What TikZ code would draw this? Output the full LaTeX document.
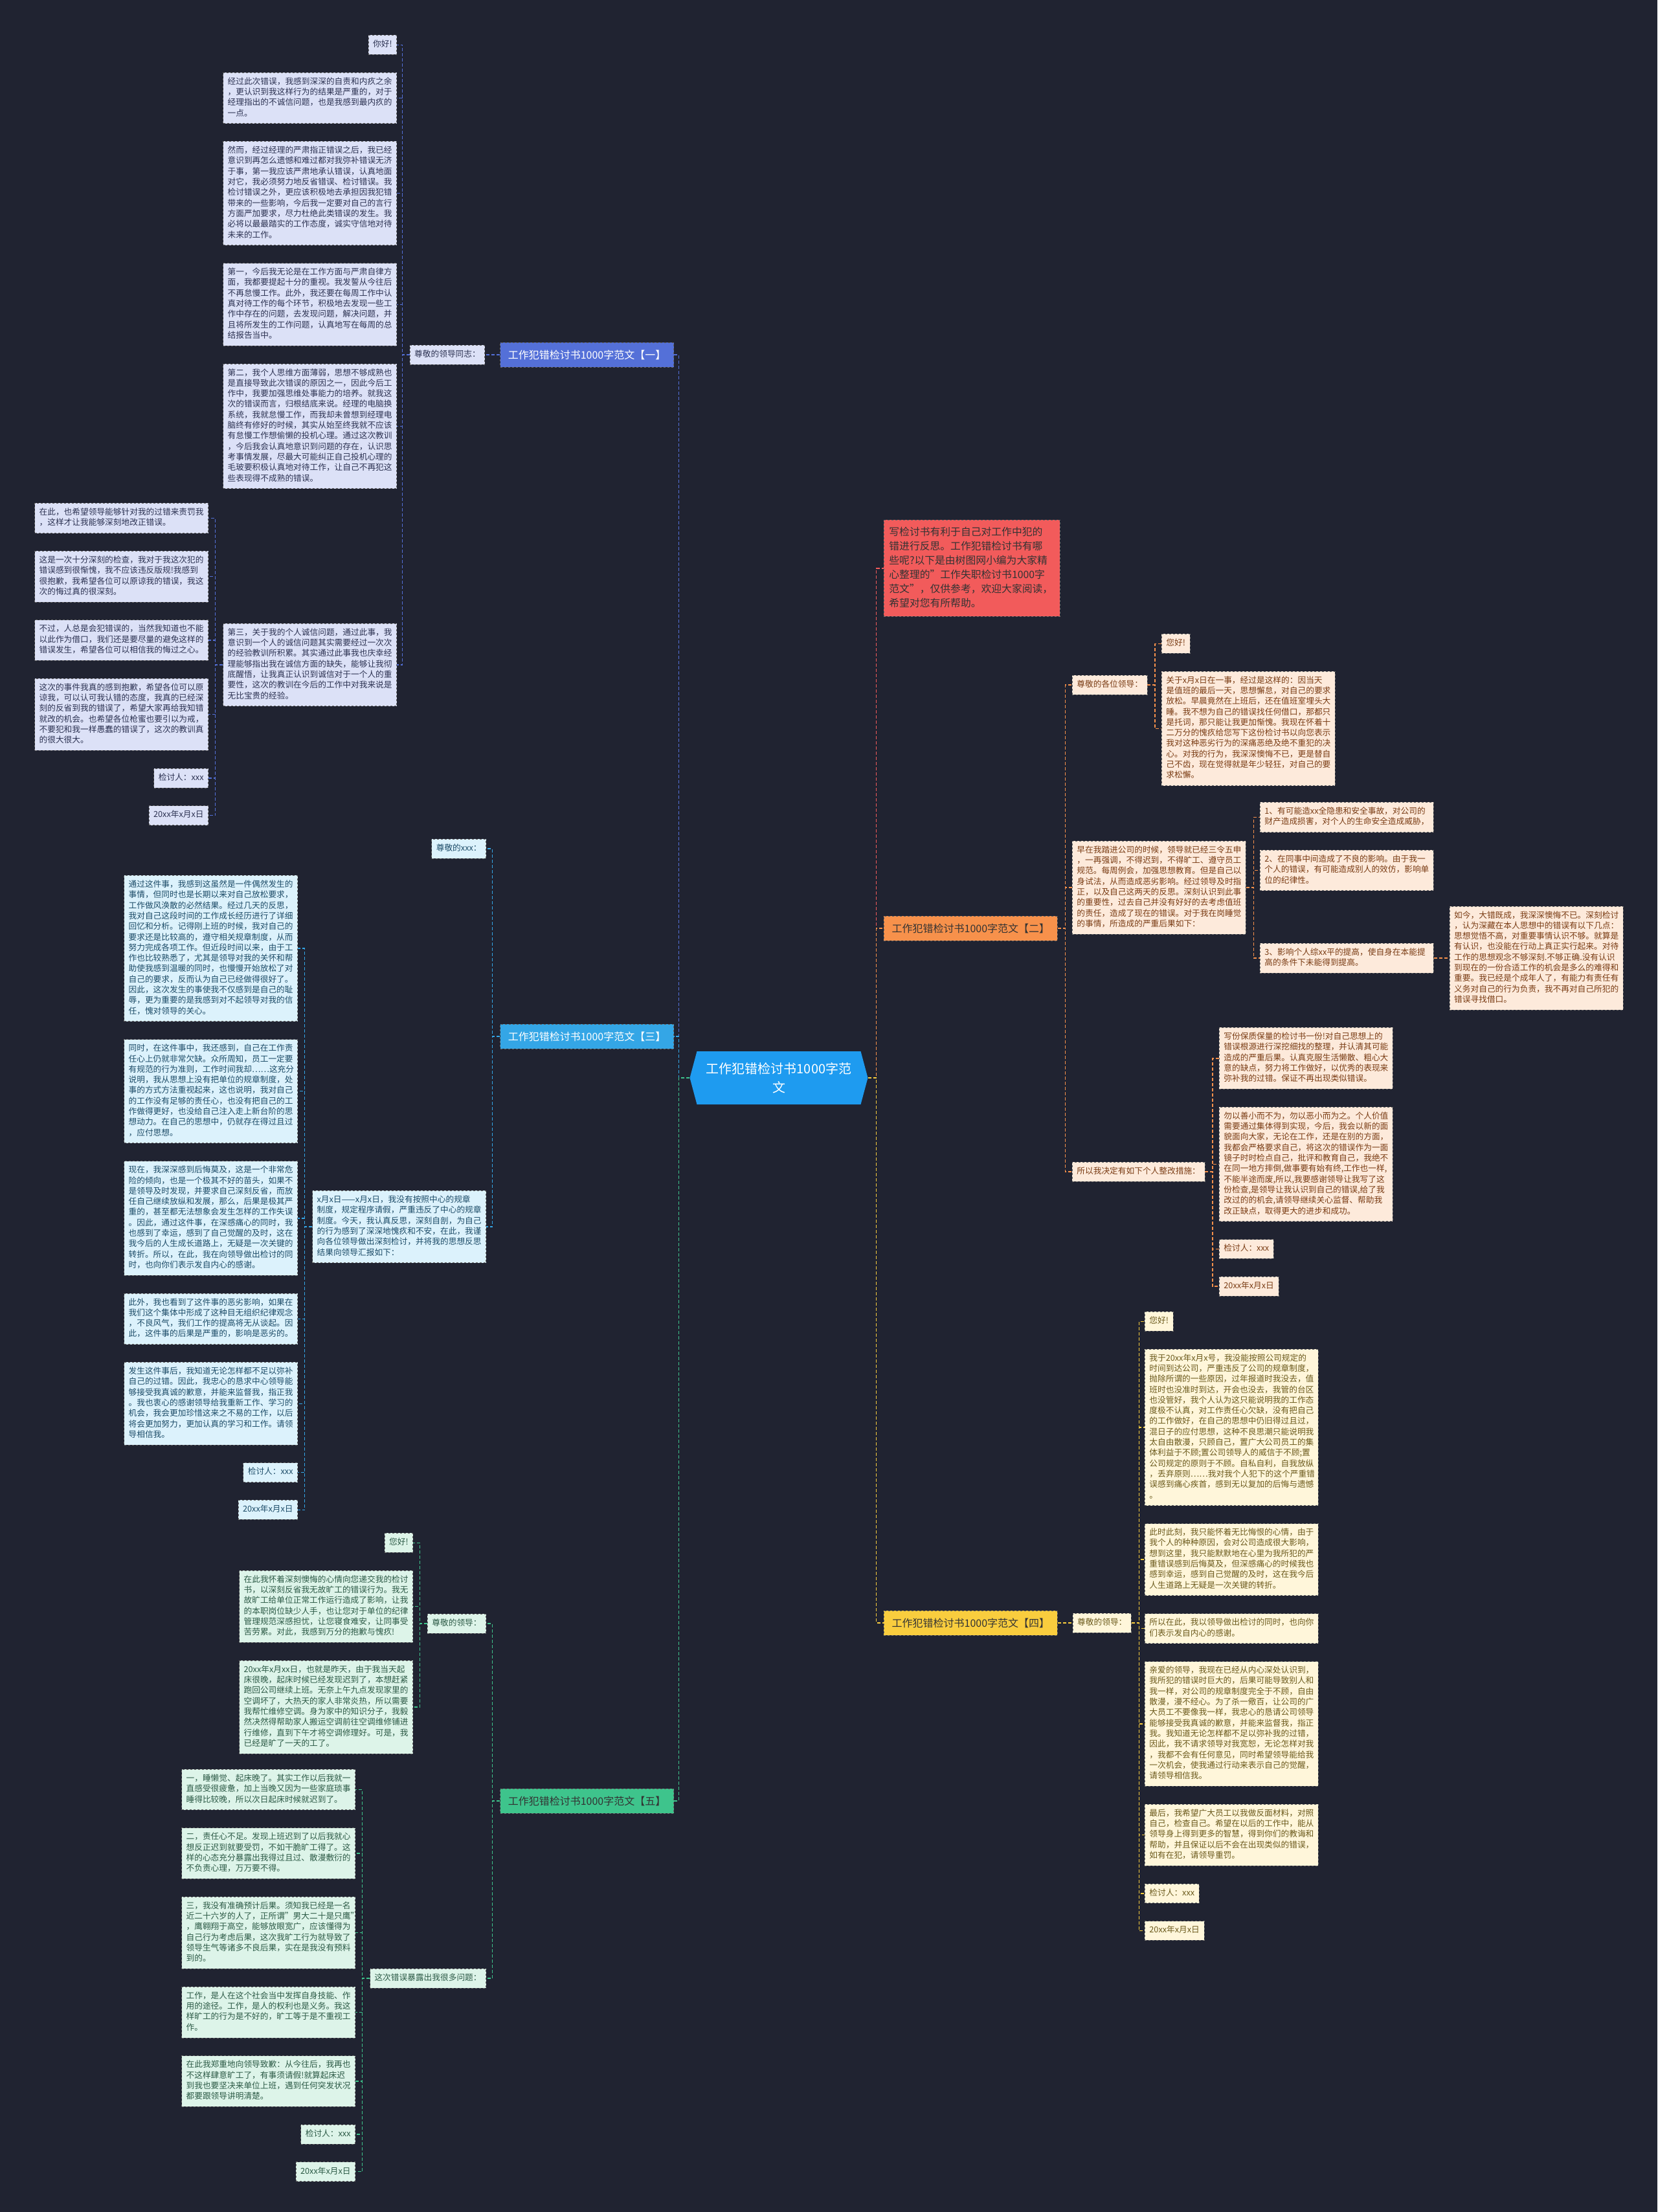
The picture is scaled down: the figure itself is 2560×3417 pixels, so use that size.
\documentclass[tikz,border=0pt]{standalone}
\usepackage{fontspec}
\setmainfont{Noto Sans CJK SC}
\usetikzlibrary{positioning,calc,shapes.symbols}
\definecolor{bgnavy}{HTML}{202331}
\definecolor{rootblue}{HTML}{1E9BF0}
\definecolor{introred}{HTML}{F25B5B}
\definecolor{yicolor}{HTML}{5470D8}
\definecolor{yifill}{HTML}{DCE1F7}
\definecolor{yitext}{HTML}{2C3252}
\definecolor{ercolor}{HTML}{F7914B}
\definecolor{erfill}{HTML}{FDEADB}
\definecolor{ertext}{HTML}{7A3C14}
\definecolor{sancolor}{HTML}{34A6E6}
\definecolor{sanfill}{HTML}{DCF2FC}
\definecolor{santext}{HTML}{1D4C68}
\definecolor{sicolor}{HTML}{F9CD3E}
\definecolor{sifill}{HTML}{FFF6DA}
\definecolor{sitext}{HTML}{6B5A1C}
\definecolor{wucolor}{HTML}{3EC48C}
\definecolor{wufill}{HTML}{DDF4E9}
\definecolor{wutext}{HTML}{2C5A46}
\newcommand{\leaffont}{\fontsize{12.7}{16.3}\selectfont}
\newcommand{\branchfont}{\fontsize{16}{20}\selectfont}
\newcommand{\rootfont}{\fontsize{20}{29}\selectfont}
\newcommand{\introfont}{\fontsize{15.8}{22}\selectfont}

\begin{document}
\begin{tikzpicture}[
    x=1pt, y=-1pt,
    leaf/.style={
      rectangle, draw=black!60, dashed, line width=0.8pt,
      font=\leaffont, align=left,
      inner xsep=7pt, inner ysep=6.75pt,
      execute at begin node=\strut, execute at end node=\strut
    },
    para/.style={leaf, text width=254pt},
    branch/.style={
      rectangle, draw=black!60, dashed, line width=0.8pt,
      font=\branchfont, minimum width=268pt, minimum height=38pt,
      inner xsep=10pt
    },
    rootbox/.style={
      signal, signal to=east and west, signal pointer angle=150,
      fill=rootblue, text=white, font=\rootfont, align=center,
      minimum width=275pt, minimum height=82pt, inner xsep=4pt
    },
    yi/.style={fill=yifill, text=yitext},
    er/.style={fill=erfill, text=ertext},
    san/.style={fill=sanfill, text=santext},
    si/.style={fill=sifill, text=sitext},
    wu/.style={fill=wufill, text=wutext},
    link/.style={draw=#1, dash pattern=on 5pt off 3pt, line width=1.4pt},
  ]

  % --- Canvas ---
  \fill[bgnavy] (0,0) rectangle (2560,3417);
  \useasboundingbox (0,0) rectangle (2560,3417);

  % --- Root ---
  \node[rootbox] (root) at (1203,1665) {工作犯错检讨书1000字范\\文};
  \coordinate (trunkL) at ($(root.west)+(-17,0)$);
  \coordinate (trunkR) at ($(root.east)+(13,0)$);

  % --- Branches ---
  \node[branch, anchor=east, fill=yicolor, text=white] (b1) at (1041,548)
    {工作犯错检讨书1000字范文【一】};
  \node[branch, anchor=east, fill=sancolor, text=white] (b3) at (1041,1601)
    {工作犯错检讨书1000字范文【三】};
  \node[branch, anchor=east, fill=wucolor, text=black!80] (b5) at (1041,2782)
    {工作犯错检讨书1000字范文【五】};

  \node[para, anchor=north west, fill=introred, text=black!80, font=\introfont,
    text width=256pt, inner xsep=8pt, inner ysep=8.5pt] (intro) at (1365,803)
    {写检讨书有利于自己对工作中犯的\\错进行反思。工作犯错检讨书有哪\\些呢?以下是由树图网小编为大家精\\心整理的"工作失职检讨书1000字\\范文"，仅供参考，欢迎大家阅读，\\希望对您有所帮助。};
  \node[branch, anchor=west, fill=ercolor, text=black!80] (b2) at (1365,1434)
    {工作犯错检讨书1000字范文【二】};
  \node[branch, anchor=west, fill=sicolor, text=black!80] (b4) at (1365,2507)
    {工作犯错检讨书1000字范文【四】};

  % --- Branch one ---
  \node[leaf, yi, left=23pt of b1] (a0) {尊敬的领导同志：};
  \node[leaf, yi, anchor=north east] (a1) at (613,54) {你好!};
  \node[para, yi, below left=27pt and 0pt of a1.south east] (a2)
    {经过此次错误，我感到深深的自责和内疚之余\\，更认识到我这样行为的结果是严重的，对于\\经理指出的不诚信问题，也是我感到最内疚的\\一点。};
  \node[para, yi, below left=27pt and 0pt of a2.south east] (a3)
    {然而，经过经理的严肃指正错误之后，我已经\\意识到再怎么遗憾和难过都对我弥补错误无济\\于事，第一我应该严肃地承认错误，认真地面\\对它，我必须努力地反省错误、检讨错误。我\\检讨错误之外，更应该积极地去承担因我犯错\\带来的一些影响，今后我一定要对自己的言行\\方面严加要求，尽力杜绝此类错误的发生。我\\必将以最最踏实的工作态度，诚实守信地对待\\未来的工作。};
  \node[para, yi, below left=27pt and 0pt of a3.south east] (a4)
    {第一，今后我无论是在工作方面与严肃自律方\\面，我都要提起十分的重视。我发誓从今往后\\不再怠慢工作。此外，我还要在每周工作中认\\真对待工作的每个环节，积极地去发现一些工\\作中存在的问题，去发现问题，解决问题，并\\且将所发生的工作问题，认真地写在每周的总\\结报告当中。};
  \node[para, yi, below left=27pt and 0pt of a4.south east] (a5)
    {第二，我个人思维方面薄弱，思想不够成熟也\\是直接导致此次错误的原因之一，因此今后工\\作中，我要加强思维处事能力的培养。就我这\\次的错误而言，归根结底来说。经理的电脑换\\系统，我就怠慢工作，而我却未曾想到经理电\\脑终有修好的时候，其实从始至终我就不应该\\有怠慢工作想偷懒的投机心理。通过这次教训\\，今后我会认真地意识到问题的存在，认识思\\考事情发展，尽最大可能纠正自己投机心理的\\毛玻要积极认真地对待工作，让自己不再犯这\\些表现得不成熟的错误。};
  \node[para, yi, anchor=east] (a6) at (613,1027)
    {第三，关于我的个人诚信问题，通过此事，我\\意识到一个人的诚信问题其实需要经过一次次\\的经验教训所积累。其实通过此事我也庆幸经\\理能够指出我在诚信方面的缺失，能够让我彻\\底醒悟，让我真正认识到诚信对于一个人的重\\要性，这次的教训在今后的工作中对我来说是\\无比宝贵的经验。};

  \node[para, yi, anchor=north east] (c1) at (322,777)
    {在此，也希望领导能够针对我的过错来责罚我\\，这样才让我能够深刻地改正错误。};
  \node[para, yi, below left=27pt and 0pt of c1.south east] (c2)
    {这是一次十分深刻的检查，我对于我这次犯的\\错误感到很惭愧，我不应该违反版规!我感到\\很抱歉，我希望各位可以原谅我的错误，我这\\次的悔过真的很深刻。};
  \node[para, yi, below left=27pt and 0pt of c2.south east] (c3)
    {不过，人总是会犯错误的，当然我知道也不能\\以此作为借口，我们还是要尽量的避免这样的\\错误发生，希望各位可以相信我的悔过之心。};
  \node[para, yi, below left=27pt and 0pt of c3.south east] (c4)
    {这次的事件我真的感到抱歉，希望各位可以原\\谅我，可以认可我认错的态度，我真的已经深\\刻的反省到我的错误了，希望大家再给我知错\\就改的机会。也希望各位枪蜜也要引以为戒，\\不要犯和我一样愚蠢的错误了，这次的教训真\\的很大很大。};
  \node[leaf, yi, below left=27pt and 0pt of c4.south east] (c5) {检讨人：xxx};
  \node[leaf, yi, below left=27pt and 0pt of c5.south east] (c6) {20xx年x月x日};

  % --- Branch three ---
  \node[leaf, san, anchor=east] (d0) at (751,1311) {尊敬的xxx：};
  \node[para, san, anchor=east] (d1) at (751,1895)
    {x月x日——x月x日，我没有按照中心的规章\\制度，规定程序请假，严重违反了中心的规章\\制度。今天，我认真反思，深刻自剖，为自己\\的行为感到了深深地愧疚和不安，在此，我谨\\向各位领导做出深刻检讨，并将我的思想反思\\结果向领导汇报如下：};
  \node[para, san, anchor=north east] (e1) at (460,1352)
    {通过这件事，我感到这虽然是一件偶然发生的\\事情，但同时也是长期以来对自己放松要求，\\工作做风涣散的必然结果。经过几天的反思，\\我对自己这段时间的工作成长经历进行了详细\\回忆和分析。记得刚上班的时候，我对自己的\\要求还是比较高的，遵守相关规章制度，从而\\努力完成各项工作。但近段时间以来，由于工\\作也比较熟悉了，尤其是领导对我的关怀和帮\\助使我感到温暖的同时，也慢慢开始放松了对\\自己的要求，反而认为自己已经做得很好了。\\因此，这次发生的事使我不仅感到是自己的耻\\辱，更为重要的是我感到对不起领导对我的信\\任，愧对领导的关心。};
  \node[para, san, below left=27pt and 0pt of e1.south east] (e2)
    {同时，在这件事中，我还感到，自己在工作责\\任心上仍就非常欠缺。众所周知，员工一定要\\有规范的行为准则，工作时间我却……这充分\\说明，我从思想上没有把单位的规章制度，处\\事的方式方法重视起来，这也说明，我对自己\\的工作没有足够的责任心，也没有把自己的工\\作做得更好，也没给自己注入走上新台阶的思\\想动力。在自己的思想中，仍就存在得过且过\\，应付思想。};
  \node[para, san, below left=27pt and 0pt of e2.south east] (e3)
    {现在，我深深感到后悔莫及，这是一个非常危\\险的倾向，也是一个极其不好的苗头，如果不\\是领导及时发现，并要求自己深刻反省，而放\\任自己继续放纵和发展，那么，后果是极其严\\重的，甚至都无法想象会发生怎样的工作失误\\。因此，通过这件事，在深感痛心的同时，我\\也感到了幸运，感到了自己觉醒的及时，这在\\我今后的人生成长道路上，无疑是一次关键的\\转折。所以，在此，我在向领导做出检讨的同\\时，也向你们表示发自内心的感谢。};
  \node[para, san, below left=27pt and 0pt of e3.south east] (e4)
    {此外，我也看到了这件事的恶劣影响，如果在\\我们这个集体中形成了这种目无组织纪律观念\\，不良风气，我们工作的提高将无从谈起。因\\此，这件事的后果是严重的，影响是恶劣的。};
  \node[para, san, below left=27pt and 0pt of e4.south east] (e5)
    {发生这件事后，我知道无论怎样都不足以弥补\\自己的过错。因此，我忠心的恳求中心领导能\\够接受我真诚的歉意，并能来监督我，指正我\\。我也衷心的感谢领导给我重新工作、学习的\\机会，我会更加珍惜这来之不易的工作，以后\\将会更加努力，更加认真的学习和工作。请领\\导相信我。};
  \node[leaf, san, below left=27pt and 0pt of e5.south east] (e6) {检讨人：xxx};
  \node[leaf, san, below left=27pt and 0pt of e6.south east] (e7) {20xx年x月x日};

  % --- Branch five ---
  \node[leaf, wu, anchor=east] (f0) at (751,2508) {尊敬的领导：};
  \node[leaf, wu, anchor=east] (f1) at (751,3056) {这次错误暴露出我很多问题：};
  \node[leaf, wu, anchor=north east] (g1) at (638,2368) {您好!};
  \node[para, wu, below left=27pt and 0pt of g1.south east] (g2)
    {在此我怀着深刻懊悔的心情向您递交我的检讨\\书，以深刻反省我无故旷工的错误行为。我无\\故旷工给单位正常工作运行造成了影响，让我\\的本职岗位缺少人手，也让您对于单位的纪律\\管理规范深感担忧，让您寝食难安，让同事受\\苦劳累。对此，我感到万分的抱歉与愧疚!};
  \node[para, wu, below left=27pt and 0pt of g2.south east] (g3)
    {20xx年x月xx日，也就是昨天，由于我当天起\\床很晚，起床时候已经发现迟到了，本想赶紧\\跑回公司继续上班。无奈上午九点发现家里的\\空调坏了，大热天的家人非常炎热，所以需要\\我帮忙维修空调。身为家中的知识分子，我毅\\然决然得帮助家人搬运空调前往空调维修铺进\\行维修，直到下午才将空调修理好。可是，我\\已经是旷了一天的工了。};
  \node[para, wu, anchor=north east] (h1) at (549,2733)
    {一，睡懒觉、起床晚了。其实工作以后我就一\\直感受很疲惫，加上当晚又因为一些家庭琐事\\睡得比较晚，所以次日起床时候就迟到了。};
  \node[para, wu, below left=27pt and 0pt of h1.south east] (h2)
    {二，责任心不足。发现上班迟到了以后我就心\\想反正迟到就要受罚，不如干脆旷工得了。这\\样的心态充分暴露出我得过且过、散漫敷衍的\\不负责心理，万万要不得。};
  \node[para, wu, below left=27pt and 0pt of h2.south east] (h3)
    {三，我没有准确预计后果。须知我已经是一名\\近二十六岁的人了，正所谓"男大二十是只鹰"\\，鹰翱翔于高空，能够放眼宽广，应该懂得为\\自己行为考虑后果，这次我旷工行为就导致了\\领导生气等诸多不良后果，实在是我没有预料\\到的。};
  \node[para, wu, below left=27pt and 0pt of h3.south east] (h4)
    {工作，是人在这个社会当中发挥自身技能、作\\用的途径。工作，是人的权利也是义务。我这\\样旷工的行为是不好的，旷工等于是不重视工\\作。};
  \node[para, wu, below left=27pt and 0pt of h4.south east] (h5)
    {在此我郑重地向领导致歉：从今往后，我再也\\不这样肆意旷工了，有事须请假!就算起床迟\\到我也要坚决来单位上班，遇到任何突发状况\\都要跟领导讲明清楚。};
  \node[leaf, wu, below left=27pt and 0pt of h5.south east] (h6) {检讨人：xxx};
  \node[leaf, wu, below left=27pt and 0pt of h6.south east] (h7) {20xx年x月x日};

  % --- Branch two ---
  \node[leaf, er, anchor=west] (k1) at (1656,1058) {尊敬的各位领导：};
  \node[para, er, anchor=west] (k2) at (1656,1371)
    {早在我踏进公司的时候，领导就已经三令五申\\，一再强调，不得迟到，不得旷工、遵守员工\\规范。每周例会，加强思想教育。但是自己以\\身试法，从而造成恶劣影响。经过领导及时指\\正，以及自己这两天的反思。深刻认识到此事\\的重要性，过去自己并没有好好的去考虑值班\\的责任，造成了现在的错误。对于我在岗睡觉\\的事情，所造成的严重后果如下：};
  \node[leaf, er, anchor=west] (k3) at (1656,1810) {所以我决定有如下个人整改措施：};
  \node[leaf, er, anchor=north west] (l1) at (1794,979) {您好!};
  \node[para, er, below right=27pt and 0pt of l1.south west] (l2)
    {关于x月x日在一事，经过是这样的：因当天\\是值班的最后一天，思想懈怠，对自己的要求\\放松。早晨竟然在上班后，还在值班室埋头大\\睡。我不想为自己的错误找任何借口，那都只\\是托词，那只能让我更加惭愧。我现在怀着十\\二万分的愧疚给您写下这份检讨书以向您表示\\我对这种恶劣行为的深痛恶绝及绝不重犯的决\\心。对我的行为，我深深懊悔不已，更是替自\\己不齿，现在觉得就是年少轻狂，对自己的要\\求松懈。};
  \node[para, er, anchor=north west] (m1) at (1946,1239)
    {1、有可能造xx全隐患和安全事故，对公司的\\财产造成损害，对个人的生命安全造成威胁，};
  \node[para, er, below right=27pt and 0pt of m1.south west] (m2)
    {2、在同事中间造成了不良的影响。由于我一\\个人的错误，有可能造成别人的效仿，影响单\\位的纪律性。};
  \node[para, er, anchor=west] (m3) at (1946,1480)
    {3、影响个人综xx平的提高，使自身在本能提\\高的条件下未能得到提高。};
  \node[para, er, right=24pt of m3] (n1)
    {如今，大错既成，我深深懊悔不已。深刻检讨\\，认为深藏在本人思想中的错误有以下几点：\\思想觉悟不高，对重要事情认识不够。就算是\\有认识，也没能在行动上真正实行起来。对待\\工作的思想观念不够深刻.不够正确.没有认识\\到现在的一份合适工作的机会是多么的难得和\\重要。我已经是个成年人了，有能力有责任有\\义务对自己的行为负责，我不再对自己所犯的\\错误寻找借口。};
  \node[para, er, anchor=north west] (o1) at (1883,1587)
    {写份保质保量的检讨书一份!对自己思想上的\\错误根源进行深挖细找的整理，并认清其可能\\造成的严重后果。认真克服生活懒散、粗心大\\意的缺点，努力将工作做好，以优秀的表现来\\弥补我的过错。保证不再出现类似错误。};
  \node[para, er, below right=27pt and 0pt of o1.south west] (o2)
    {勿以善小而不为，勿以恶小而为之。个人价值\\需要通过集体得到实现，今后，我会以新的面\\貌面向大家，无论在工作，还是在别的方面，\\我都会严格要求自己，将这次的错误作为一面\\镜子时时检点自己，批评和教育自己，我绝不\\在同一地方摔倒,做事要有始有终,工作也一样,\\不能半途而废,所以,我要感谢领导让我写了这\\份检查,是领导让我认识到自己的错误,给了我\\改过的的机会,请领导继续关心监督、帮助我\\改正缺点，取得更大的进步和成功。};
  \node[leaf, er, below right=27pt and 0pt of o2.south west] (o3) {检讨人：xxx};
  \node[leaf, er, below right=27pt and 0pt of o3.south west] (o4) {20xx年x月x日};

  % --- Branch four ---
  \node[leaf, si, right=23pt of b4] (p0) {尊敬的领导：};
  \node[leaf, si, anchor=north west] (q1) at (1768,2026) {您好!};
  \node[para, si, below right=27pt and 0pt of q1.south west] (q2)
    {我于20xx年x月x号，我没能按照公司规定的\\时间到达公司，严重违反了公司的规章制度，\\抛除所谓的一些原因，过年报道时我没去，值\\班时也没准时到达，开会也没去，我管的台区\\也没管好，我个人认为这只能说明我的工作态\\度极不认真，对工作责任心欠缺，没有把自己\\的工作做好，在自己的思想中仍旧得过且过，\\混日子的应付思想，这种不良思潮只能说明我\\太自由散漫，只顾自己，置广大公司员工的集\\体利益于不顾;置公司领导人的威信于不顾;置\\公司规定的原则于不顾。自私自利，自我放纵\\，丢弃原则……我对我个人犯下的这个严重错\\误感到痛心疾首，感到无以复加的后悔与遗憾\\。};
  \node[para, si, below right=27pt and 0pt of q2.south west] (q3)
    {此时此刻，我只能怀着无比悔恨的心情，由于\\我个人的种种原因，会对公司造成很大影响，\\想到这里，我只能默默地在心里为我所犯的严\\重错误感到后悔莫及，但深感痛心的时候我也\\感到幸运，感到自己觉醒的及时，这在我今后\\人生道路上无疑是一次关键的转折。};
  \node[para, si, below right=27pt and 0pt of q3.south west] (q4)
    {所以在此，我以领导做出检讨的同时，也向你\\们表示发自内心的感谢。};
  \node[para, si, below right=27pt and 0pt of q4.south west] (q5)
    {亲爱的领导，我现在已经从内心深处认识到，\\我所犯的错误时巨大的，后果可能导致别人和\\我一样，对公司的规章制度完全于不顾，自由\\散漫，漫不经心。为了杀一儆百，让公司的广\\大员工不要像我一样，我忠心的恳请公司领导\\能够接受我真诚的歉意，并能来监督我，指正\\我。我知道无论怎样都不足以弥补我的过错，\\因此，我不请求领导对我宽恕，无论怎样对我\\，我都不会有任何意见，同时希望领导能给我\\一次机会，使我通过行动来表示自己的觉醒，\\请领导相信我。};
  \node[para, si, below right=27pt and 0pt of q5.south west] (q6)
    {最后，我希望广大员工以我做反面材料，对照\\自己，检查自己。希望在以后的工作中，能从\\领导身上得到更多的智慧，得到你们的教诲和\\帮助，并且保证以后不会在出现类似的错误，\\如有在犯，请领导重罚。};
  \node[leaf, si, below right=27pt and 0pt of q6.south west] (q7) {检讨人：xxx};
  \node[leaf, si, below right=27pt and 0pt of q7.south west] (q8) {20xx年x月x日};

  % --- Junctions ---
  \coordinate (jA) at ($(a0.west)+(-11.5,0)$);
  \coordinate (jC) at ($(a6.west)+(-11.5,0)$);
  \coordinate (j3) at ($(b3.west)+(-11.5,0)$);
  \coordinate (jE) at ($(d1.west)+(-11.5,0)$);
  \coordinate (j5) at ($(b5.west)+(-11.5,0)$);
  \coordinate (jG) at ($(f0.west)+(-11.5,0)$);
  \coordinate (jH) at ($(f1.west)+(-11.5,0)$);
  \coordinate (j2) at ($(b2.east)+(11.5,0)$);
  \coordinate (jL) at ($(k1.east)+(11.5,0)$);
  \coordinate (jM) at ($(k2.east)+(11.5,0)$);
  \coordinate (jO) at ($(k3.east)+(11.5,0)$);
  \coordinate (jQ) at ($(p0.east)+(11.5,0)$);

  % --- Connectors ---
  \draw[link=introred] (root.east) -- (trunkR) |- (intro.west);
  \draw[link=ercolor] (root.east) -- (trunkR) |- (b2.west);
  \draw[link=sicolor] (root.east) -- (trunkR) |- (b4.west);
  \draw[link=yicolor] (root.west) -- (trunkL) |- (b1.east);
  \draw[link=sancolor] (root.west) -- (trunkL) |- (b3.east);
  \draw[link=wucolor] (root.west) -- (trunkL) |- (b5.east);

  \draw[link=yicolor] (b1.west) -- (a0.east);
  \foreach \k in {a1,a2,a3,a4,a5,a6}
    \draw[link=yicolor] (a0.west) -- (jA) |- (\k.east);
  \foreach \k in {c1,c2,c3,c4,c5,c6}
    \draw[link=yicolor] (a6.west) -- (jC) |- (\k.east);

  \foreach \k in {d0,d1}
    \draw[link=sancolor] (b3.west) -- (j3) |- (\k.east);
  \foreach \k in {e1,e2,e3,e4,e5,e6,e7}
    \draw[link=sancolor] (d1.west) -- (jE) |- (\k.east);

  \foreach \k in {f0,f1}
    \draw[link=wucolor] (b5.west) -- (j5) |- (\k.east);
  \foreach \k in {g1,g2,g3}
    \draw[link=wucolor] (f0.west) -- (jG) |- (\k.east);
  \foreach \k in {h1,h2,h3,h4,h5,h6,h7}
    \draw[link=wucolor] (f1.west) -- (jH) |- (\k.east);

  \foreach \k in {k1,k2,k3}
    \draw[link=ercolor] (b2.east) -- (j2) |- (\k.west);
  \foreach \k in {l1,l2}
    \draw[link=ercolor] (k1.east) -- (jL) |- (\k.west);
  \foreach \k in {m1,m2,m3}
    \draw[link=ercolor] (k2.east) -- (jM) |- (\k.west);
  \draw[link=ercolor] (m3.east) -- (n1.west);
  \foreach \k in {o1,o2,o3,o4}
    \draw[link=ercolor] (k3.east) -- (jO) |- (\k.west);

  \draw[link=sicolor] (b4.east) -- (p0.west);
  \foreach \k in {q1,q2,q3,q4,q5,q6,q7,q8}
    \draw[link=sicolor] (p0.east) -- (jQ) |- (\k.west);
\end{tikzpicture}
\end{document}
